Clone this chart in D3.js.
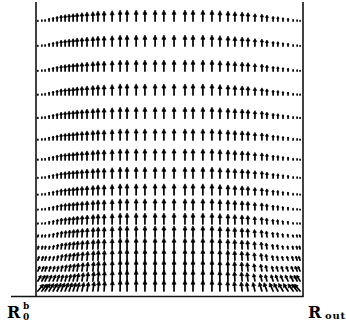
<!DOCTYPE html>
<html>
<head>
<meta charset="utf-8">
<script src="https://cdn.jsdelivr.net/npm/d3@7"></script>
<style>
  html, body { margin: 0; padding: 0; background: #fff; overflow: hidden; }
  svg { display: block; }
  .lbl { font-family: "DejaVu Serif", "Liberation Serif", serif; font-weight: bold; fill: #000; }
</style>
</head>
<body>
<svg id="chart" width="346" height="331"></svg>
<script>
// Radial sample positions (0 = inner wall R0, 1 = outer wall Rout)
const colX = [.007,.022,.034,.049,.064,.079,.094,.109,.124,.139,
              .154,.172,.191,.213,.232,.255,.285,.315,.341,.375,
              .408,.446,.479,.517,.558,.588,.625,.659,.689,.719,
              .745,.772,.794,.820,.846,.865,.888,.906,.925,.944,
              .963,.978,.989];
// Axial sample positions (0 = bottom, 1 = top)
const rowZ = [.935,.850,.765,.684,.605,.531,.463,.401,.344,.293,.245,.201,.160,.122,.085,.051,.017];
// Axial speed across the gap (relative to the core value)
const speed = [.09,.14,.18,.27,.36,.45,.55,.59,.64,.68,
               .73,.77,.82,.86,.91,.91,.95,1,1,1,
               1,1,1,1,1,1,1,1,.95,.91,
               .86,.82,.77,.68,.64,.55,.45,.41,.32,.27,
               .18,.14,.09];
// Inclination of the flow near the walls at the bottom (degrees, + = towards Rout)
const lean = [40,38,35,32,30,27,24,22,20,18,
              15,13,10,8,6,4,2,1,0,0,
              0,0,0,0,0,0,0,0,-1,-2,
              -4,-6,-9,-13,-17,-20,-24,-27,-30,-33,
              -36,-38,-40];
// How strongly each row feels the bottom end effect
const endEffect = [0,0,0,0,0,0,0,0,.05,.1,.18,.27,.37,.48,.6,.75,1];
const wallSpeed = 0.8;

const svg = d3.select("#chart");
const x = d3.scaleLinear().domain([0, 1]).range([36, 303]);
const y = d3.scaleLinear().domain([0, 1]).range([296, 2]);
const len = d3.scaleLinear().domain([0, 1]).range([0, 11]);

// Vector field cells
const cells = [];
rowZ.forEach((z, i) => {
  colX.forEach((r, j) => {
    const m = Math.max(speed[j], endEffect[i] * wallSpeed);
    const a = lean[j] * endEffect[i] * Math.PI / 180;
    cells.push({ r, z, u: m * Math.sin(a), v: m * Math.cos(a) });
  });
});

const g = svg.append("g");
cells.forEach(c => {
  const x0 = x(c.r), y0 = y(c.z);
  const dx = len(c.u), dy = -len(c.v);
  const L = Math.hypot(dx, dy);
  const ux = dx / L, uy = dy / L;
  const x1 = x0 + dx, y1 = y0 + dy;
  const hl = Math.min(4.2, 0.4 * L), hw = Math.min(2.0, 0.2 * L + 0.3);
  const bx = x1 - ux * hl, by = y1 - uy * hl;
  g.append("line")
    .attr("x1", x0).attr("y1", y0).attr("x2", bx).attr("y2", by)
    .attr("stroke", "#000").attr("stroke-width", 1.7).attr("stroke-linecap", "round");
  if (L > 2) {
    g.append("path")
      .attr("d", `M${x1},${y1}L${bx - uy * hw},${by + ux * hw}L${bx + uy * hw},${by - ux * hw}Z`)
      .attr("fill", "#000").attr("stroke", "#000").attr("stroke-width", 0.7);
  }
});

// Walls and base line
const axisStyle = sel => sel.attr("stroke", "#111").attr("stroke-width", 1.6).attr("fill", "none");
svg.append("line").attr("x1", x(0)).attr("x2", x(0)).attr("y1", y(1)).attr("y2", y(0)).call(axisStyle);
svg.append("line").attr("x1", x(1)).attr("x2", x(1)).attr("y1", y(1)).attr("y2", y(0)).call(axisStyle);
svg.append("line").attr("x1", 11).attr("x2", x(1) + 0.8).attr("y1", y(0) + 0.5).attr("y2", y(0) + 0.5).call(axisStyle);

// Labels
svg.append("text").attr("class", "lbl").attr("x", 7).attr("y", 318).attr("font-size", 16).text("R");
svg.append("text").attr("class", "lbl").attr("x", 23).attr("y", 309).attr("font-size", 9).text("b");
svg.append("text").attr("class", "lbl").attr("x", 23).attr("y", 320).attr("font-size", 9).text("0");
svg.append("text").attr("class", "lbl").attr("x", 308).attr("y", 318).attr("font-size", 16).text("R");
svg.append("text").attr("class", "lbl").attr("x", 325).attr("y", 319).attr("font-size", 10).attr("letter-spacing", 0.8).text("out");
</script>
</body>
</html>
